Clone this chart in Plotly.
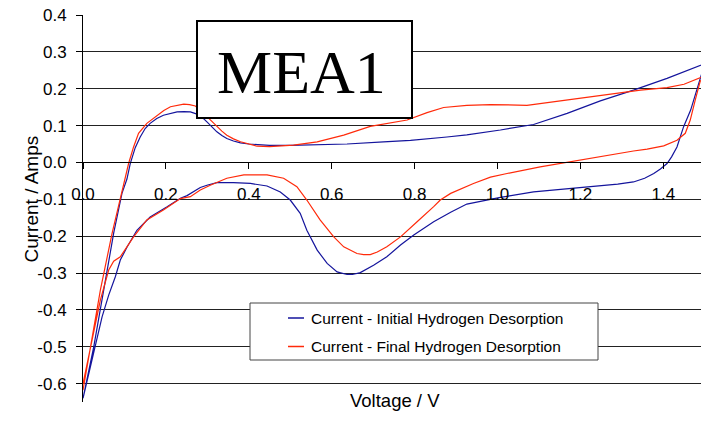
import plotly.graph_objects as go

# Cyclic voltammetry sweeps for MEA1: anodic sweep (0 -> 1.5 V) then cathodic sweep (1.5 -> 0 V)
initial_fwd_v = [0.0, 0.026, 0.05, 0.074, 0.094, 0.106, 0.114, 0.126, 0.138, 0.150, 0.162, 0.178,
                 0.194, 0.210, 0.227, 0.243, 0.259, 0.275, 0.288, 0.299, 0.311, 0.323, 0.335, 0.347,
                 0.363, 0.380, 0.400, 0.420, 0.45, 0.50, 0.565, 0.637, 0.725, 0.79, 0.878, 0.926,
                 1.007, 1.087, 1.168, 1.248, 1.328, 1.409, 1.5]
initial_fwd_i = [-0.64, -0.50, -0.346, -0.192, -0.084, -0.045, -0.003, 0.040, 0.069, 0.092, 0.106, 0.119,
                 0.128, 0.133, 0.137, 0.138, 0.137, 0.131, 0.122, 0.110, 0.097, 0.083, 0.073, 0.065,
                 0.058, 0.053, 0.050, 0.048, 0.046, 0.046, 0.047, 0.050, 0.056, 0.060, 0.069, 0.075,
                 0.088, 0.103, 0.133, 0.167, 0.196, 0.228, 0.268]
initial_rev_v = [1.5, 1.485, 1.466, 1.449, 1.433, 1.420, 1.409, 1.393, 1.377, 1.355, 1.328, 1.29,
                 1.248, 1.168, 1.087, 1.007, 0.926, 0.887, 0.846, 0.798, 0.766, 0.733, 0.701, 0.669,
                 0.650, 0.637, 0.613, 0.589, 0.565, 0.540, 0.524, 0.500, 0.476, 0.444, 0.404, 0.363,
                 0.323, 0.299, 0.283, 0.251, 0.235, 0.203, 0.162, 0.130, 0.106, 0.090, 0.078, 0.062,
                 0.046, 0.025, 0.0]
initial_rev_i = [0.268, 0.214, 0.142, 0.097, 0.042, 0.015, -0.003, -0.018, -0.030, -0.043, -0.053, -0.059,
                 -0.063, -0.072, -0.080, -0.095, -0.113, -0.135, -0.161, -0.197, -0.224, -0.256, -0.279, -0.299,
                 -0.304, -0.304, -0.297, -0.274, -0.238, -0.184, -0.138, -0.102, -0.080, -0.064, -0.057, -0.055,
                 -0.055, -0.062, -0.068, -0.090, -0.097, -0.120, -0.148, -0.184, -0.230, -0.265, -0.310, -0.360,
                 -0.419, -0.520, -0.640]

final_fwd_v = [0.0, 0.018, 0.042, 0.070, 0.090, 0.100, 0.110, 0.122, 0.134, 0.154, 0.179, 0.195,
               0.211, 0.227, 0.243, 0.257, 0.271, 0.285, 0.299, 0.311, 0.323, 0.335, 0.347, 0.363,
               0.380, 0.400, 0.420, 0.45, 0.508, 0.565, 0.629, 0.693, 0.740, 0.782, 0.83, 0.87,
               0.926, 0.983, 1.071, 1.168, 1.264, 1.345, 1.409, 1.45, 1.5]
final_fwd_i = [-0.618, -0.50, -0.346, -0.193, -0.100, -0.050, -0.003, 0.042, 0.079, 0.106, 0.128, 0.141,
               0.151, 0.155, 0.158, 0.157, 0.153, 0.140, 0.124, 0.110, 0.097, 0.085, 0.074, 0.064,
               0.056, 0.049, 0.044, 0.043, 0.047, 0.056, 0.074, 0.098, 0.108, 0.115, 0.135, 0.149,
               0.155, 0.157, 0.155, 0.169, 0.183, 0.196, 0.203, 0.212, 0.235]
final_rev_v = [1.5, 1.489, 1.477, 1.465, 1.453, 1.433, 1.401, 1.361, 1.328, 1.28, 1.248, 1.2,
               1.168, 1.103, 1.023, 0.983, 0.942, 0.887, 0.862, 0.846, 0.806, 0.766, 0.733, 0.710,
               0.693, 0.677, 0.661, 0.629, 0.605, 0.572, 0.540, 0.516, 0.484, 0.444, 0.388, 0.347,
               0.307, 0.283, 0.259, 0.235, 0.194, 0.154, 0.122, 0.090, 0.074, 0.062, 0.042, 0.022, 0.0]
final_rev_i = [0.235, 0.220, 0.169, 0.115, 0.079, 0.060, 0.045, 0.036, 0.031, 0.022, 0.016, 0.008,
               0.002, -0.012, -0.030, -0.040, -0.057, -0.084, -0.102, -0.120, -0.161, -0.202, -0.229, -0.243,
               -0.250, -0.250, -0.247, -0.229, -0.202, -0.156, -0.102, -0.066, -0.043, -0.034, -0.034, -0.043,
               -0.062, -0.075, -0.093, -0.098, -0.129, -0.156, -0.202, -0.256, -0.268, -0.292, -0.373, -0.482, -0.600]

series_names = ["Current - Initial Hydrogen Desorption", "Current - Final Hydrogen Desorption"]
series_colors = ["#14149c", "#ff2a0a"]

x_tick_vals = [0.0, 0.2, 0.4, 0.6, 0.8, 1.0, 1.2, 1.4]
x_tick_text = ["0.0", "0.2", "0.4", "0.6", "0.8", "1.0", "1.2", "1.4"]
y_tick_vals = [0.4, 0.3, 0.2, 0.1, 0.0, -0.1, -0.2, -0.3, -0.4, -0.5, -0.6]
y_tick_text = ["0.4", "0.3", "0.2", "0.1", "0.0", "-0.1", "-0.2", "-0.3", "-0.4", "-0.5", "-0.6"]

W, H = 701, 422
M_L, M_R, M_T, M_B = 83, 0, 15, 20
Y_RANGE = [-0.65, 0.4]
SANS = "Liberation Sans, Arial, sans-serif"


def px(x):
    """Pixel column -> paper x."""
    return (x - M_L) / (W - M_L - M_R)


def py(y):
    """Pixel row -> paper y."""
    return (H - M_B - y) / (H - M_T - M_B)


fig = go.Figure()
sweeps = [(initial_fwd_v + initial_rev_v, initial_fwd_i + initial_rev_i),
          (final_fwd_v + final_rev_v, final_fwd_i + final_rev_i)]
for (v, i), name, color in zip(sweeps, series_names, series_colors):
    fig.add_trace(go.Scatter(x=v, y=i, mode="lines", name=name, showlegend=False,
                             line=dict(color=color, width=1.2)))

# x axis sits on the zero-current line
zero_pos = (0 - Y_RANGE[0]) / (Y_RANGE[1] - Y_RANGE[0])

fig.update_layout(
    width=W, height=H,
    margin=dict(l=M_L, r=M_R, t=M_T, b=M_B, pad=0),
    paper_bgcolor="white", plot_bgcolor="white",
    font=dict(family=SANS, color="black"),
    xaxis=dict(range=[0, (W - M_L - M_R) / 414.5], anchor="free", position=zero_pos,
               showgrid=False, zeroline=False, showline=True, linecolor="black", linewidth=1,
               ticks="outside", ticklen=6, tickcolor="black",
               tickvals=x_tick_vals, ticktext=x_tick_text,
               tickfont=dict(size=17, family=SANS, color="black"), ticklabelstandoff=10),
    yaxis=dict(range=Y_RANGE, showgrid=True, gridcolor="#222222", gridwidth=1,
               zeroline=True, zerolinecolor="black", zerolinewidth=1,
               showline=True, linecolor="black", linewidth=1,
               ticks="outside", ticklen=6, tickcolor="black",
               tickvals=y_tick_vals, ticktext=y_tick_text,
               tickfont=dict(size=17, family=SANS, color="black"), ticklabelstandoff=6),
)

shapes = []
annotations = []

# Axis titles
annotations.append(dict(text="Voltage / V", xref="paper", yref="paper", x=px(395), y=py(413),
                        showarrow=False, font=dict(size=18.5, family=SANS, color="black")))
annotations.append(dict(text="Current / Amps", xref="paper", yref="paper", x=px(18), y=py(199),
                        textangle=-90, showarrow=False, font=dict(size=19, family=SANS, color="black")))

# Sample label box
shapes.append(dict(type="rect", xref="paper", yref="paper", x0=px(197), x1=px(412), y0=py(118), y1=py(21),
                   line=dict(color="black", width=2), fillcolor="white", layer="above"))
annotations.append(dict(text="MEA1", xref="paper", yref="paper", x=px(301), y=py(36),
                        showarrow=False, font=dict(size=62, family="Liberation Serif, Times New Roman, serif",
                                                   color="black")))

# Legend box
shapes.append(dict(type="rect", xref="paper", yref="paper", x0=px(250), x1=px(598), y0=py(360), y1=py(303),
                   line=dict(color="#444444", width=1), fillcolor="white", layer="above"))
for row_y, name, color in zip([318, 346.5], series_names, series_colors):
    shapes.append(dict(type="line", xref="paper", yref="paper", x0=px(288), x1=px(304),
                       y0=py(row_y), y1=py(row_y), line=dict(color=color, width=1.5), layer="above"))
    annotations.append(dict(text=name, xref="paper", yref="paper", x=px(309), y=py(row_y),
                            xanchor="left", yanchor="middle", showarrow=False,
                            font=dict(size=15.5, family=SANS, color="black")))

fig.update_layout(shapes=shapes, annotations=annotations)
fig.write_html("out.html")
